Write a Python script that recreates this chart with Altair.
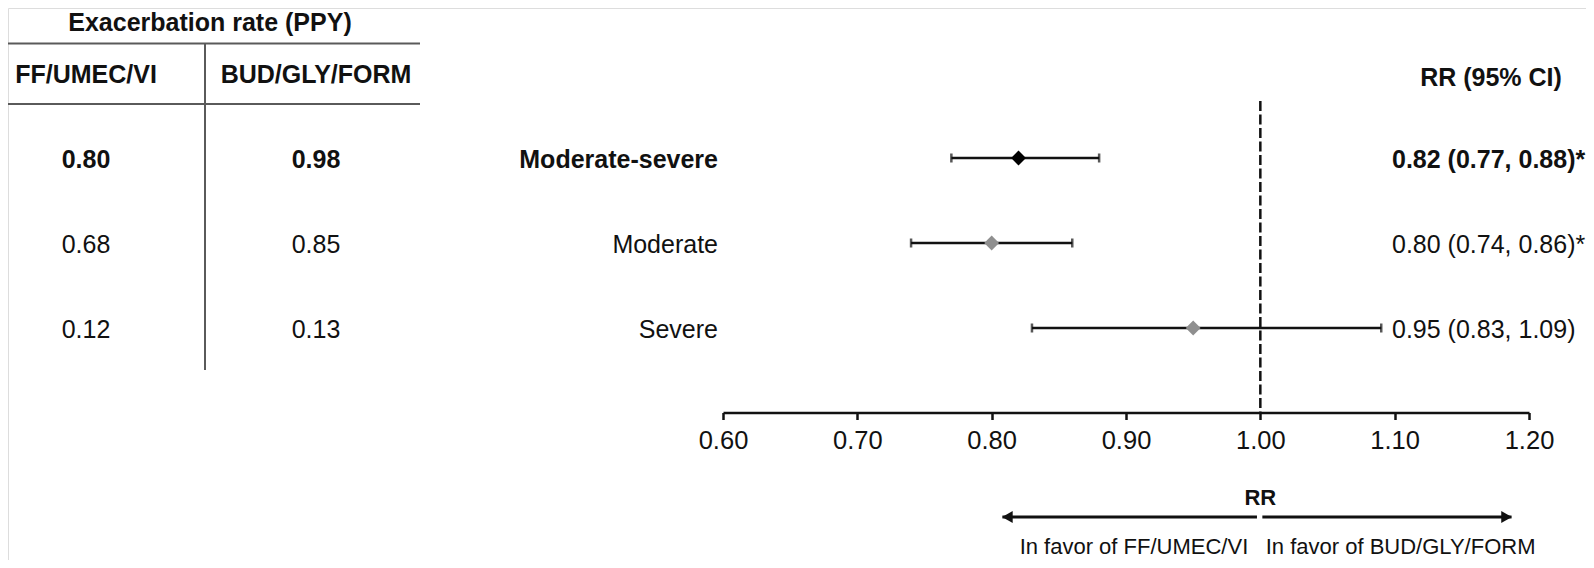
import altair as alt
import pandas as pd

# ---- data ----
outcomes = ["Moderate-severe", "Moderate", "Severe"]
ff_rate = ["0.80", "0.68", "0.12"]
bud_rate = ["0.98", "0.85", "0.13"]
rr = [0.82, 0.80, 0.95]
ci_lo = [0.77, 0.74, 0.83]
ci_hi = [0.88, 0.86, 1.09]
signif = ["*", "*", ""]
x_ticks = [0.60, 0.70, 0.80, 0.90, 1.00, 1.10, 1.20]

table_title = "Exacerbation rate (PPY)"
col_headers = ["FF/UMEC/VI", "BUD/GLY/FORM"]
ci_header = "RR (95% CI)"
axis_title = "RR"
favor_labels = ["In favor of FF/UMEC/VI", "In favor of BUD/GLY/FORM"]
arrow_span = [0.808, 1.187]   # tips of the RR direction arrows
ref_value = 1.00

FONT = "Liberation Sans"
FS = 25
INK = "#111111"
GRID = "#5a5a5a"

df = pd.DataFrame({
    "row": [0, 1, 2],
    "outcome": outcomes,
    "ff": ff_rate,
    "bud": bud_rate,
    "rr": rr,
    "lo": ci_lo,
    "hi": ci_hi,
    "label": [f"{a:.2f} ({b:.2f}, {c:.2f}){s}" for a, b, c, s in zip(rr, ci_lo, ci_hi, signif)],
    "bold": [True, False, False],
})

xscale = alt.Scale(domain=[0.6, 1.2], range=[715, 1521], zero=False, nice=False)
Y = alt.Y("row:Q", scale=alt.Scale(domain=[0, 2], range=[150, 320]), axis=None)

base = alt.Chart(df)
one = alt.Chart(pd.DataFrame({"k": [0]}))

# ---- forest plot ----
ci = base.mark_rule(color=INK, strokeWidth=2.5).encode(
    x=alt.X("lo:Q", scale=xscale, title=None,
            axis=alt.Axis(values=x_ticks, format=".2f", offset=-147.5, tickSize=7,
                          tickWidth=2.5, domainWidth=2.5, domainColor=INK,
                          tickColor=INK, labelColor=INK, labelFontSize=25.5,
                          labelFont=FONT, labelPadding=9, labelFlush=False,
                          labelOverlap=False, grid=False)),
    x2="hi:Q",
    y=Y,
)
caps = base.transform_fold(["lo", "hi"], as_=["end", "val"]).mark_tick(
    orient="vertical", size=9, thickness=2.5, color=INK
).encode(x="val:Q", y=Y)
pts = base.mark_point(shape="diamond", filled=True, size=220, opacity=1).encode(
    x="rr:Q", y=Y,
    color=alt.condition(alt.datum.row == 0, alt.value("#000000"), alt.value("#8f8f8f")),
)
refline = one.mark_rule(color=INK, strokeWidth=2.5, strokeDash=[10, 3.5]).encode(
    x=alt.datum(ref_value), y=alt.value(93), y2=alt.value(404)
)

# ---- text helpers ----
def row_text(field, xpos, bold, align):
    flt = "datum.bold" if bold else "!datum.bold"
    return base.transform_filter(flt).mark_text(
        align=align, baseline="middle", font=FONT, fontSize=FS, dy=2,
        fontWeight="bold" if bold else "normal", color=INK
    ).encode(x=alt.value(xpos), y=Y, text=f"{field}:N")

labels = [row_text("outcome", 710, True, "right"), row_text("outcome", 710, False, "right")]
tbl = [row_text("ff", 78, True, "center"), row_text("ff", 78, False, "center"),
       row_text("bud", 308, True, "center"), row_text("bud", 308, False, "center")]
rcol = [row_text("label", 1384, True, "left"), row_text("label", 1384, False, "left")]

def header(txt, x, y, bold=True, align="center", fs=FS):
    return one.mark_text(text=txt, align=align, baseline="middle", font=FONT, fontSize=fs,
                         fontWeight="bold" if bold else "normal", color=INK).encode(
        x=alt.value(x), y=alt.value(y))

headers = [
    header(table_title, 202, 15),
    header(col_headers[0], 78, 67),
    header(col_headers[1], 308, 67),
    header(ci_header, 1483, 70),
]

# ---- table borders ----
def hline(y, x0, x1):
    return one.mark_rule(color=GRID, strokeWidth=2).encode(
        x=alt.value(x0), x2=alt.value(x1), y=alt.value(y))

borders = [
    hline(35.5, 0, 412),
    hline(96, 0, 412),
    one.mark_rule(color=GRID, strokeWidth=2).encode(
        x=alt.value(197), y=alt.value(35.5), y2=alt.value(362)),
]

# ---- RR direction arrows ----
rr_title = one.mark_text(text=axis_title, align="center", baseline="middle", font=FONT,
                         fontSize=22, fontWeight="bold", color=INK).encode(
    x=alt.datum(ref_value), y=alt.value(490))
arr_l = one.mark_rule(color=INK, strokeWidth=3).encode(
    x=alt.datum(arrow_span[0]), x2=alt.datum(ref_value - 0.0025), y=alt.value(509))
arr_r = one.mark_rule(color=INK, strokeWidth=3).encode(
    x=alt.datum(ref_value + 0.0015), x2=alt.datum(arrow_span[1]), y=alt.value(509))
head_l = one.mark_point(shape="triangle-left", filled=True, size=150, color=INK, opacity=1,
                        xOffset=5).encode(x=alt.datum(arrow_span[0]), y=alt.value(509))
head_r = one.mark_point(shape="triangle-right", filled=True, size=150, color=INK, opacity=1,
                        xOffset=-5).encode(x=alt.datum(arrow_span[1]), y=alt.value(509))
fav_l = one.mark_text(text=favor_labels[0], align="right", baseline="middle", font=FONT,
                      fontSize=22, color=INK).encode(x=alt.datum(ref_value - 0.009), y=alt.value(539))
fav_r = one.mark_text(text=favor_labels[1], align="left", baseline="middle", font=FONT,
                      fontSize=22, color=INK).encode(x=alt.datum(ref_value + 0.004), y=alt.value(539))

chart = alt.layer(
    ci, caps, refline, pts, *labels, *tbl, *rcol, *headers, *borders,
    rr_title, arr_l, arr_r, head_l, head_r, fav_l, fav_r,
).properties(
    width=1578, height=552, padding=0, autosize="none"
).configure_view(stroke=None).configure(background="white")

chart.save("out.html", embed_options={"renderer": "svg", "actions": False})
